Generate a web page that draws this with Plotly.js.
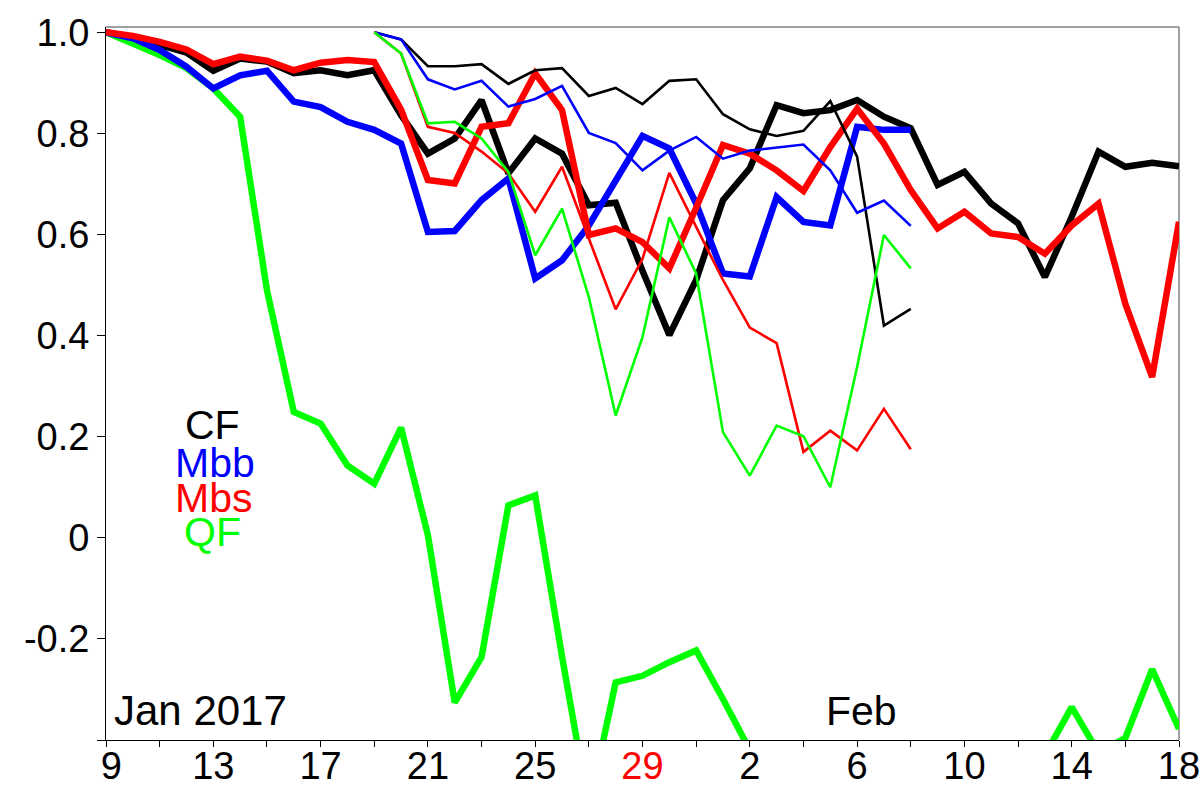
<!DOCTYPE html>
<html><head><meta charset="utf-8">
<script src="https://cdn.plot.ly/plotly-3.0.1.min.js"></script>
<style>html,body{margin:0;padding:0;background:#fff}</style>
</head><body><div id="chart" style="width:1204px;height:785px"></div>
<script>
// ---- data ----
var dates = ['2017-01-09','2017-01-10','2017-01-11','2017-01-12','2017-01-13','2017-01-14','2017-01-15','2017-01-16','2017-01-17','2017-01-18',
  '2017-01-19','2017-01-20','2017-01-21','2017-01-22','2017-01-23','2017-01-24','2017-01-25','2017-01-26','2017-01-27','2017-01-28',
  '2017-01-29','2017-01-30','2017-01-31','2017-02-01','2017-02-02','2017-02-03','2017-02-04','2017-02-05','2017-02-06','2017-02-07',
  '2017-02-08','2017-02-09','2017-02-10','2017-02-11','2017-02-12','2017-02-13','2017-02-14','2017-02-15','2017-02-16','2017-02-17','2017-02-18'];
var datesToFeb8 = dates.slice(0, 31);
var datesShort = dates.slice(10, 31);

var cfThick = [1.0,0.99,0.975,0.96,0.924,0.948,0.942,0.919,0.925,0.915,
  0.925,0.836,0.760,0.790,0.866,0.721,0.790,0.760,0.658,0.663,
  0.528,0.401,0.51,0.668,0.731,0.856,0.840,0.846,0.866,0.833,
  0.81,0.698,0.724,0.661,0.622,0.516,0.635,0.764,0.734,0.742,0.735];
var mbbThick = [1.0,0.988,0.965,0.932,0.889,0.915,0.924,0.863,0.852,0.823,
  0.807,0.780,0.605,0.607,0.668,0.711,0.513,0.549,0.618,0.708,
  0.795,0.770,0.661,0.523,0.517,0.674,0.625,0.618,0.813,0.807,0.807];
var mbsThick = [1.0,0.993,0.981,0.966,0.937,0.952,0.944,0.925,0.940,0.945,
  0.941,0.847,0.708,0.701,0.813,0.820,0.919,0.846,0.599,0.612,
  0.585,0.533,0.653,0.777,0.760,0.727,0.686,0.773,0.849,0.780,
  0.688,0.612,0.645,0.602,0.595,0.562,0.618,0.661,0.463,0.318,0.625];
var qfThick = [1.0,0.978,0.955,0.929,0.889,0.833,0.49,0.249,0.226,0.143,
  0.107,0.218,0.005,-0.326,-0.236,0.064,0.084,-0.235,-0.535,-0.286,
  -0.273,-0.246,-0.223,-0.319,-0.42,-0.55,-0.6,-0.65,-0.6,-0.55,
  -0.6,-0.65,-0.6,-0.55,-0.5,-0.43,-0.335,-0.425,-0.396,-0.26,-0.378];

var cfThin  = [1.0,0.986,0.933,0.933,0.937,0.898,0.925,0.929,0.874,0.890,0.858,0.904,0.907,0.838,0.808,0.795,0.805,0.864,0.754,0.420,0.453];
var mbbThin = [1.0,0.986,0.907,0.887,0.904,0.853,0.868,0.894,0.801,0.781,0.727,0.766,0.793,0.750,0.766,0.772,0.778,0.727,0.643,0.667,0.617];
var mbsThin = [1.0,0.958,0.813,0.801,0.764,0.721,0.645,0.734,0.592,0.452,0.552,0.722,0.615,0.510,0.416,0.385,0.170,0.212,0.173,0.255,0.175];
var qfThin  = [1.0,0.958,0.820,0.823,0.790,0.724,0.559,0.651,0.476,0.242,0.397,0.634,0.523,0.209,0.123,0.222,0.201,0.100,0.338,0.599,0.533];

var xTickVals = ['2017-01-09','2017-01-11','2017-01-13','2017-01-15','2017-01-17','2017-01-19','2017-01-21','2017-01-23','2017-01-25','2017-01-27',
  '2017-01-29','2017-01-31','2017-02-02','2017-02-04','2017-02-06','2017-02-08','2017-02-10','2017-02-12','2017-02-14','2017-02-16','2017-02-18'];
var xTickText = ['\u00a09','','13','','17','','21','','25','','<span style="color:#ff0000">29</span>','','2','','6','','10','','14','','18'];
var yTickVals = [-0.4,-0.2,0,0.2,0.4,0.6,0.8,1.0];
var yTickText = ['','-0.2','0','0.2','0.4','0.6','0.8','1.0'];

var seriesNames = ['CF','Mbb','Mbs','QF'];
var seriesColors = ['#000000','#0000ff','#ff0000','#00ff00'];

// ---- chart ----
var FONT = 'Liberation Sans, Arial, Helvetica, sans-serif';
var THICK = 6.5, THIN = 2.6;
function tr(x, y, color, w) {
  return {x: x, y: y, type: 'scatter', mode: 'lines', line: {color: color, width: w}, hoverinfo: 'skip', showlegend: false};
}
var traces = [
  tr(dates, qfThick, seriesColors[3], THICK),
  tr(dates, cfThick, seriesColors[0], THICK),
  tr(datesToFeb8, mbbThick, seriesColors[1], THICK),
  tr(dates, mbsThick, seriesColors[2], THICK),
  tr(datesShort, cfThin, seriesColors[0], THIN),
  tr(datesShort, mbbThin, seriesColors[1], THIN),
  tr(datesShort, mbsThin, seriesColors[2], THIN),
  tr(datesShort, qfThin, seriesColors[3], THIN)
];

var legendY = [0.4424, 0.3892, 0.3394, 0.2916];
var legendX = [0.0997, 0.1016, 0.1006, 0.0988];
var annotations = seriesNames.map(function (n, i) {
  return {text: n, xref: 'paper', yref: 'paper', x: legendX[i], y: legendY[i], xanchor: 'center', yanchor: 'middle',
    showarrow: false, font: {family: FONT, size: 41, color: seriesColors[i]}};
});
annotations.push({text: 'Jan 2017', xref: 'paper', yref: 'paper', x: 0.0060, y: 0.041, xanchor: 'left', yanchor: 'middle',
  showarrow: false, font: {family: FONT, size: 42, color: '#000'}});
annotations.push({text: 'Feb', xref: 'paper', yref: 'paper', x: 0.669, y: 0.041, xanchor: 'left', yanchor: 'middle',
  showarrow: false, font: {family: FONT, size: 41, color: '#000'}});

var layout = {
  width: 1204, height: 785,
  margin: {l: 106, r: 25, t: 27, b: 45, pad: 0},
  paper_bgcolor: '#fff', plot_bgcolor: '#fff',
  font: {family: FONT, size: 38, color: '#000'},
  showlegend: false,
  xaxis: {
    type: 'date', range: ['2017-01-09', '2017-02-18'],
    tickmode: 'array', tickvals: xTickVals, ticktext: xTickText,
    ticks: 'outside', ticklen: 6, tickwidth: 1, tickcolor: '#000',
    ticklabelstandoff: -14,
    showline: true, linecolor: '#000', linewidth: 1, showgrid: false, zeroline: false,
    tickfont: {family: FONT, size: 38, color: '#000'}, fixedrange: true
  },
  yaxis: {
    range: [-0.4, 1.0105],
    tickmode: 'array', tickvals: yTickVals, ticktext: yTickText,
    ticks: 'outside', ticklen: 8, tickwidth: 1, tickcolor: '#000',
    showline: true, linecolor: '#000', linewidth: 1, showgrid: false, zeroline: false,
    tickfont: {family: FONT, size: 38, color: '#000'}, fixedrange: true
  },
  shapes: [
    {type: 'line', xref: 'paper', yref: 'paper', x0: 0, x1: 1, y0: 1, y1: 1, line: {color: '#808080', width: 1.5}, layer: 'below'},
    {type: 'line', xref: 'paper', yref: 'paper', x0: 1, x1: 1, y0: 0, y1: 1, line: {color: '#808080', width: 1.5}, layer: 'below'}
  ],
  annotations: annotations
};
Plotly.newPlot('chart', traces, layout, {staticPlot: true, displayModeBar: false});
</script></body></html>
